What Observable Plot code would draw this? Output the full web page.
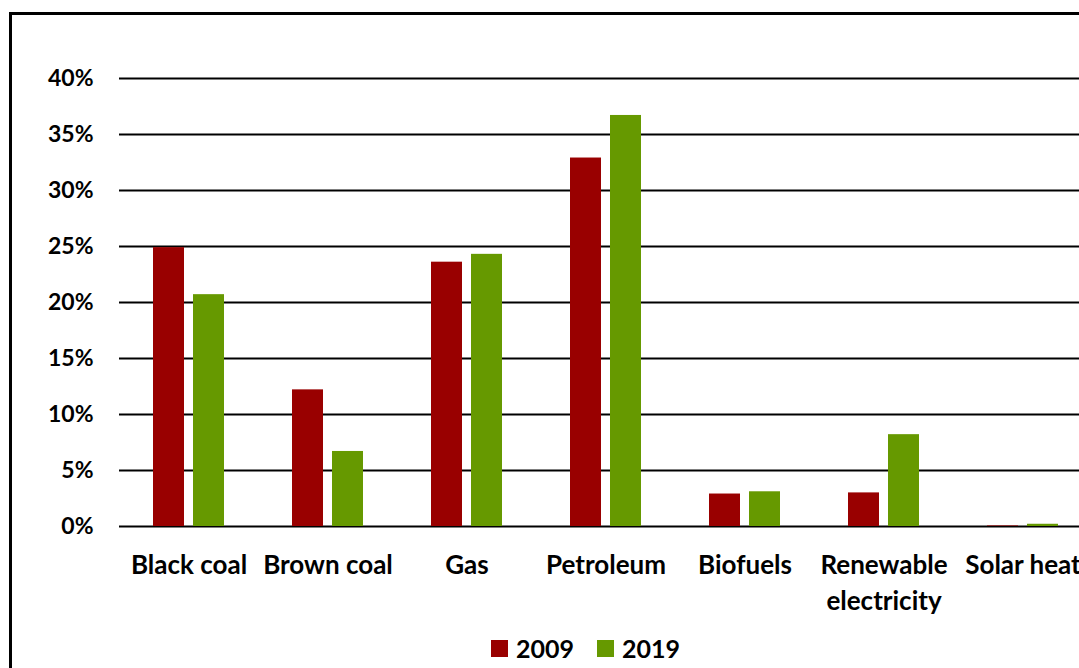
<!DOCTYPE html>
<html>
<head>
<meta charset="utf-8">
<script src="https://cdn.jsdelivr.net/npm/d3@7"></script>
<script src="https://cdn.jsdelivr.net/npm/@observablehq/plot@0.6"></script>
<style>
  html, body { margin: 0; padding: 0; background: #fff; overflow: hidden; width: 1079px; height: 668px; }
  #frame { position: absolute; left: 9px; top: 12px; width: 1200px; height: 800px; border: 3px solid #000; pointer-events: none; }
  #chart { position: absolute; left: 0; top: 0; }
  #legend { position: absolute; left: 491px; top: 634px; height: 28px; line-height: 28px; font-family: Lato, sans-serif; font-weight: bold; font-size: 25px; color: #000; display: flex; align-items: center; white-space: nowrap; }
  #legend .item { display: flex; align-items: center; margin-right: 23px; }
  #legend .sw { display: inline-block; width: 17px; height: 17px; margin-right: 8px; }
</style>
</head>
<body>
<div id="chart"></div>
<div id="legend"></div>
<div id="frame"></div>
<script>
// Energy sources, share of total energy consumption
const categories = ["Black coal", "Brown coal", "Gas", "Petroleum", "Biofuels", "Renewable electricity", "Solar heat"];
const categoryLabels = ["Black coal", "Brown coal", "Gas", "Petroleum", "Biofuels", "Renewable\nelectricity", "Solar heat"];
const share2009 = [24.9, 12.2, 23.6, 32.9, 2.9, 3.0, 0.05];
const share2019 = [20.7, 6.7, 24.3, 36.7, 3.1, 8.2, 0.2];
const years = ["2009", "2019"];
const yearColors = ["#990000", "#669900"];
const yTicks = [0, 5, 10, 15, 20, 25, 30, 35, 40];

const rows2009 = categories.map((c, i) => ({category: c, year: years[0], value: share2009[i]}));
const rows2019 = categories.map((c, i) => ({category: c, year: years[1], value: share2019[i]}));
const labelOf = new Map(categories.map((c, i) => [c, categoryLabels[i]]));

const chart = Plot.plot({
  width: 1100,
  height: 620,
  marginLeft: 119,
  marginRight: 8,
  marginTop: 78,
  marginBottom: 94,
  style: {fontFamily: "Lato, sans-serif", color: "#000", background: "transparent", maxWidth: "none", overflow: "visible"},
  x: {domain: categories, padding: 0},
  y: {domain: [0, 40]},
  marks: [
    Plot.ruleY(yTicks, {stroke: "#000", strokeWidth: 2}),
    Plot.barY(rows2009, {x: "category", y: "value", fill: yearColors[0], insetLeft: 34, insetRight: 74}),
    Plot.barY(rows2019, {x: "category", y: "value", fill: yearColors[1], insetLeft: 74, insetRight: 34}),
    Plot.axisY(yTicks, {
      tickFormat: d => d + "%", tickSize: 0, tickPadding: 26, label: null,
      fontSize: 23, fontWeight: "bold", fill: "#000"
    }),
    Plot.axisX({
      tickFormat: d => labelOf.get(d), tickSize: 0, tickPadding: 22, label: null,
      fontSize: 26, fontWeight: "bold", fill: "#000", lineHeight: 1.385
    })
  ]
});
document.getElementById("chart").appendChild(chart);

const legend = document.getElementById("legend");
years.forEach((y, i) => {
  const item = document.createElement("span");
  item.className = "item";
  const sw = document.createElement("span");
  sw.className = "sw";
  sw.style.background = yearColors[i];
  item.appendChild(sw);
  item.appendChild(document.createTextNode(y));
  legend.appendChild(item);
});
</script>
</body>
</html>
